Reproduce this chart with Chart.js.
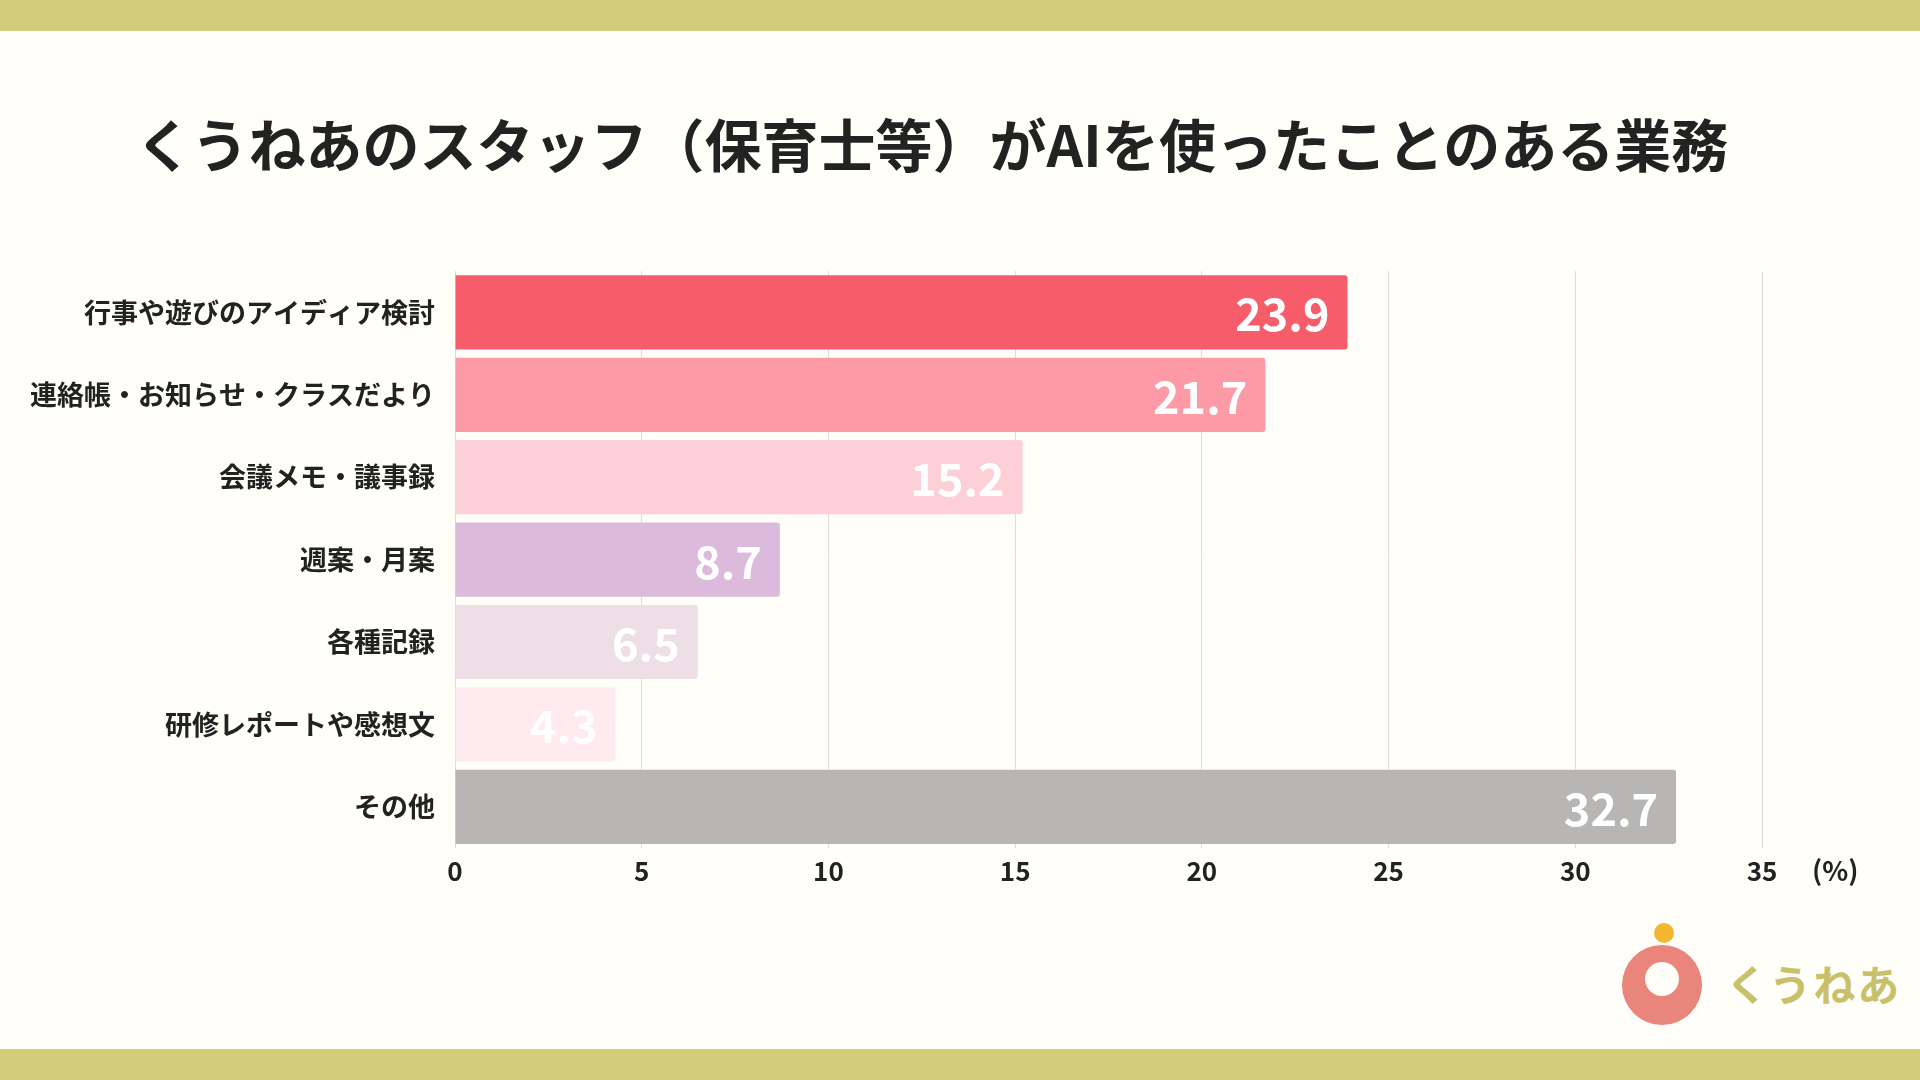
<!DOCTYPE html>
<html>
<head>
<meta charset="utf-8">
<script src="https://cdn.jsdelivr.net/npm/chart.js@4"></script>
<style>
  body { margin: 0; width: 1920px; height: 1080px; background: #fffef8; position: relative; overflow: hidden;
         font-family: "Noto Sans CJK JP", sans-serif; }
  .band { position: absolute; left: 0; width: 1920px; height: 31px; background: #d3cd7a; }
  #title { position: absolute; top: 101px; left: 0; width: 1864px; text-align: center; font-size: 57px; font-weight: 700; color: #222; }
  #wrap { position: absolute; left: 0; top: 243px; width: 1920px; height: 661px; }
  #unit { position: absolute; left: 1812px; top: 850px; font-size: 27px; font-weight: 700; color: #222; }
  #logo { position: absolute; left: 1610px; top: 915px; }
</style>
</head>
<body>
<div class="band" style="top:0"></div>
<div class="band" style="top:1049px"></div>
<div id="title">くうねあのスタッフ（保育士等）がAIを使ったことのある業務</div>
<div id="wrap"><canvas id="c"></canvas></div>
<div id="unit">(%)</div>
<div id="logo">
  <svg width="300" height="120">
    <circle cx="52" cy="70" r="40" fill="#e9857a"/>
    <circle cx="52" cy="64" r="17" fill="#fffef8"/>
    <circle cx="54" cy="18" r="10" fill="#f2b630"/>
    <text x="116" y="86" font-size="42" font-weight="700" fill="#c9c16a" font-family="Noto Sans CJK JP" letter-spacing="2">くうねあ</text>
  </svg>
</div>
<script>
const categories = ['行事や遊びのアイディア検討', '連絡帳・お知らせ・クラスだより', '会議メモ・議事録', '週案・月案', '各種記録', '研修レポートや感想文', 'その他'];
const values = [23.9, 21.7, 15.2, 8.7, 6.5, 4.3, 32.7];
const colors = ['#f75c6b', '#fd9aa6', '#fdd0d8', '#dbbadb', '#eedfe6', '#ffebef', '#b8b6b5'];

const valueLabels = {
  id: 'valueLabels',
  afterDatasetsDraw(chart) {
    const ctx = chart.ctx;
    const meta = chart.getDatasetMeta(0);
    ctx.save();
    ctx.font = '700 45px "Noto Sans CJK JP"';
    ctx.fillStyle = '#ffffff';
    ctx.textAlign = 'right';
    ctx.textBaseline = 'middle';
    meta.data.forEach((bar, i) => {
      ctx.fillText(values[i].toFixed(1), bar.x - 18, bar.y + 2);
    });
    ctx.restore();
  }
};

new Chart(document.getElementById('c'), {
  type: 'bar',
  data: {
    labels: categories,
    datasets: [{
      data: values,
      backgroundColor: colors,
      borderRadius: 3,
      borderSkipped: 'start',
      barPercentage: 0.9,
      categoryPercentage: 1
    }]
  },
  options: {
    indexAxis: 'y',
    responsive: true,
    maintainAspectRatio: false,
    animation: false,
    layout: { padding: { left: 0, right: 158, top: 0, bottom: 0 } },
    scales: {
      x: {
        min: 0, max: 35,
        ticks: { stepSize: 5, color: '#222', padding: 8, font: { family: 'Noto Sans CJK JP', size: 26, weight: '700' } },
        grid: { color: '#dcdcdc', drawTicks: false },
        border: { display: false },
        afterFit(s) { s.height = 56; }
      },
      y: {
        ticks: { color: '#222', padding: 12, font: { family: 'Noto Sans CJK JP', size: 27, weight: '700' } },
        grid: { display: false },
        border: { display: false },
        afterFit(s) { s.width = 455; }
      }
    },
    plugins: { legend: { display: false }, tooltip: { enabled: false } }
  },
  plugins: [valueLabels]
});
</script>
</body>
</html>
